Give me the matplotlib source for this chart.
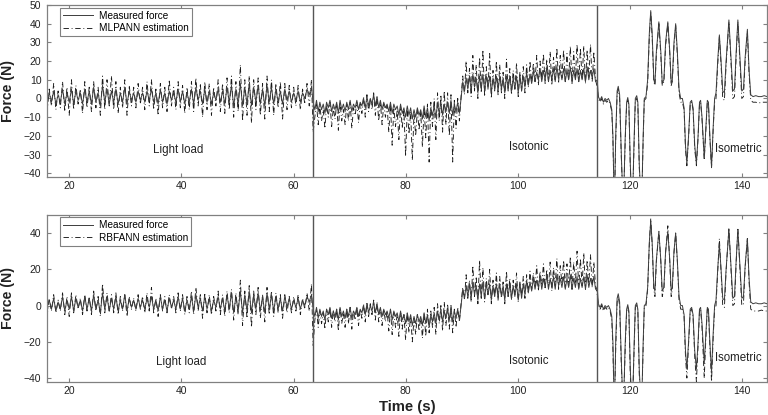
import matplotlib.pyplot as plt
import numpy as np

plt.rcParams['font.family'] = ['Liberation Sans', 'DejaVu Sans']

##################################
# data
##################################
# segment limits, s
light_start, light_end = 16.0, 63.2
isoton_start, isoton_end = 63.5, 114.2
phase_lines = [63.5, 114.2]

# --- light load: alternating troughs / peaks, N
light_meas = [-1, 3, -2, 4, -3, 2, -2, 5, -3, 3,
              -2, 5, -3, 4, -1, 3, -3, 5, -2, 4,
              -3, 6, -2, 3, -4, 7, -2, 5, -3, 4,
              -2, 5, -3, 3, -2, 6, -3, 4, -1, 3,
              -2, 4, -1, 3, -2, 4, -1, 5, -2, 3,
              -3, 5, -2, 3, -3, 4, -1, 3, -2, 5,
              -2, 4, -3, 3, -2, 5, -3, 6, -1, 4,
              -3, 5, -2, 4, -3, 3, -1, 5, -2, 4,
              -3, 6, -2, 7, -4, 5, -3, 8, -4, 6,
              -3, 8, -4, 6, -2, 7, -3, 5, -4, 7,
              -2, 6, -3, 5, -2, 4, -3, 5, -1, 4,
              -2, 3, -1, 4, -2, 3, 0, 5, 2, 6]
light_mlp = [-8, 5, -4, 8, -6, 4, -5, 9, -7, 6,
             -9, 10, -6, 7, -3, 5, -8, 9, -5, 6,
             -7, 9, -5, 6, -9, 12, -6, 10, -4, 12,
             -6, 9, -8, 6, -5, 10, -9, 7, -4, 6,
             -5, 8, -3, 6, -6, 9, -4, 10, -6, 5,
             -9, 8, -5, 6, -7, 10, -4, 6, -6, 9,
             -5, 7, -8, 6, -6, 9, -7, 11, -4, 8,
             -10, 9, -6, 8, -9, 6, -4, 10, -7, 8,
             -8, 11, -6, 12, -10, 9, -7, 18, -12, 10,
             -9, 12, -13, 10, -6, 11, -9, 8, -11, 12,
             -7, 10, -9, 8, -5, 9, -11, 8, -6, 7,
             -5, 6, -4, 7, -6, 5, -3, 8, -4, 10]
light_rbf = [-6, 4, -3, 6, -4, 3, -3, 7, -5, 5,
             -6, 7, -4, 6, -2, 4, -5, 6, -3, 5,
             -5, 8, -3, 5, -6, 12, -4, 7, -3, 6,
             -4, 7, -5, 5, -3, 6, -6, 5, -2, 4,
             -3, 6, -2, 5, -4, 7, -3, 10, -4, 4,
             -6, 6, -3, 5, -4, 6, -2, 5, -4, 7,
             -3, 6, -5, 5, -4, 8, -5, 10, -3, 6,
             -7, 7, -4, 6, -5, 5, -3, 8, -5, 6,
             -6, 8, -4, 9, -8, 7, -5, 14, -11, 8,
             -7, 11, -12, 8, -5, 10, -7, 6, -9, 10,
             -5, 8, -6, 7, -4, 6, -7, 6, -4, 5,
             -4, 5, -3, 6, -5, 4, -2, 7, -3, 12]

# --- isotonic
isoton_meas = [-2, -6, -1, -7, -2, -6, -3, -8, -2, -5,
               -1, -7, -3, -6, -2, -8, -1, -6, -3, -7,
               -2, -6, -1, -7, -3, -5, -1, -6, -2, -4,
               0, -5, 1, -4, 0, -3, 2, -4, 1, -5,
               -1, -6, -2, -5, -3, -7, -2, -8, -3, -6,
               -4, -9, -3, -8, -5, -10, -4, -9, -5, -11,
               -6, -10, -5, -9, -6, -11, -4, -10, -5, -12,
               -5, -9, -4, -10, -3, -8, -2, -9, -3, -7,
               -2, -8, -1, -9, -3, -7, -2, -8, 0, 9,
               4, 11, 5, 12, 4, 13, 6, 11, 3, 12,
               5, 13, 4, 12, 6, 12, 3, 11, 5, 12,
               4, 12, 5, 11, 3, 12, 5, 12, 4, 11,
               5, 12, 3, 13, 4, 12, 6, 14, 7, 13,
               8, 15, 9, 14, 10, 16, 9, 15, 10, 17,
               9, 15, 10, 16, 9, 17, 11, 15, 10, 16,
               9, 15, 10, 17, 9, 15, 10, 16, 9, 15,
               10, 16, 9, 17, 10, 15, 11, 16, 9, 10]
isoton_mlp = [-18, -10, -3, -14, -4, -12, -6, -16, -3, -10,
              -2, -15, -5, -11, -3, -17, -2, -12, -6, -14,
              -3, -12, -2, -16, -5, -9, -2, -13, -3, -8,
              1, -10, 2, -7, 0, -6, 3, -9, 1, -12,
              -2, -14, -3, -10, -4, -18, -3, -25, -5, -15,
              -6, -22, -4, -16, -6, -31, -5, -19, -7, -33,
              -8, -20, -6, -17, -7, -26, -5, -21, -3, -34,
              -2, -15, 0, -22, 3, -12, 2, -18, 4, -14,
              3, -20, 2, -34, -1, -16, 0, -12, 1, 12,
              2, 20, 3, 16, 1, 23, 4, 18, 0, 22,
              3, 26, 1, 17, 5, 24, 0, 15, 4, 20,
              2, 18, 3, 14, 0, 21, 4, 16, 2, 15,
              5, 19, 1, 14, 4, 17, 3, 18, 6, 20,
              8, 19, 9, 23, 7, 20, 10, 24, 8, 21,
              9, 25, 7, 22, 10, 27, 8, 23, 11, 26,
              9, 24, 10, 28, 8, 25, 11, 29, 9, 27,
              10, 28, 8, 26, 11, 29, 9, 25, 10, 6]
isoton_rbf = [-22, -8, -2, -12, -3, -10, -4, -13, -2, -9,
              -1, -12, -3, -9, -2, -14, -1, -10, -4, -12,
              -2, -10, -1, -13, -3, -8, -1, -11, -2, -7,
              1, -9, 2, -6, 1, -5, 3, -8, 2, -9,
              -1, -11, -2, -9, -3, -14, -2, -16, -4, -12,
              -5, -17, -3, -13, -5, -19, -4, -15, -6, -20,
              -7, -16, -5, -14, -6, -18, -4, -17, -2, -15,
              -3, -12, -1, -16, 1, -10, 0, -14, 2, -11,
              1, -13, 0, -15, -2, -12, -1, -9, 1, 10,
              3, 17, 4, 14, 2, 22, 5, 16, 1, 25,
              4, 21, 2, 15, 6, 20, 1, 14, 5, 18,
              3, 16, 4, 13, 1, 19, 5, 15, 3, 14,
              6, 18, 2, 13, 5, 16, 4, 17, 7, 19,
              9, 18, 10, 22, 8, 19, 11, 23, 9, 20,
              10, 24, 8, 21, 11, 26, 9, 22, 12, 25,
              10, 23, 11, 27, 9, 24, 12, 30, 10, 26,
              11, 29, 9, 25, 12, 28, 10, 24, 11, 6]

# --- isometric (uneven sample times)
isom_t = [114.4, 114.7, 115.0, 115.3, 115.6, 115.9, 116.2, 116.5, 116.8, 117.0,
          117.25, 117.5, 117.75, 117.95, 118.2, 118.5, 118.85, 119.2, 119.45, 119.65,
          119.85, 120.1, 120.45, 120.8, 121.0, 121.25, 121.45, 121.7, 122.1, 122.4,
          122.6, 122.9, 123.2, 123.5, 123.75, 124.0, 124.3, 124.5, 124.75, 125.2,
          125.55, 125.8, 126.1, 126.4, 126.8, 127.15, 127.4, 127.6, 127.9, 128.2,
          128.5, 128.8, 129.1, 129.4, 129.7, 129.95, 130.2, 130.5, 130.8, 131.05,
          131.3, 131.6, 131.9, 132.2, 132.45, 132.65, 132.9, 133.3, 133.6, 133.85,
          134.05, 134.3, 134.6, 134.9, 135.15, 135.4, 135.7, 136.0, 136.3, 136.6,
          136.9, 137.2, 137.7, 138.1, 138.4, 138.7, 139.0, 139.3, 139.7, 140.0,
          140.3, 140.6, 141.0, 141.3, 141.6, 142.0, 142.5, 143.0, 143.5, 144.0,
          144.5]
isom_meas = [1, -1, 1, -2, 0, -1, 0, -2, -6, -20,
             -60, -20, 4, 6.5, 2, -30, -60, -20, -2, 0.5,
             -3, -35, -60, -20, 0, 1.5, -2, -35, -60, -20,
             0, 1, 10, 35, 47, 35, 10, 8, 25, 41,
             25, 8, 10, 30, 41, 25, 8, 10, 30, 40,
             25, 5, 0, 0, -5, -25, -35, -20, -2, -1,
             -5, -25, -35, -20, -2, -1, -10, -32, -15, -1,
             -2, -20, -37, -15, 0, 3, 20, 34, 20, 4,
             3, 20, 42, 20, 4, 5, 25, 42, 20, 4,
             5, 22, 37, 15, 2, 1, 1.5, 1, 1, 1.5,
             1]
isom_mlp = [0, -2, 0, -3, -1, -2, -1, -3, -7, -22,
            -60, -22, 2, 5, 0, -32, -60, -22, -3, -1,
            -4, -37, -60, -22, -1, 0, -3, -37, -60, -22,
            -1, 0, 8, 33, 46, 33, 9, 7, 23, 40,
            23, 7, 9, 28, 40, 24, 7, 9, 28, 39,
            23, 3, -2, -2, -6, -27, -36, -21, -3, -2,
            -6, -27, -36, -21, -3, -2, -11, -33, -16, -2,
            -3, -21, -37, -16, -2, 0, 18, 33, 18, 0,
            -1, 18, 41, 18, 0, 1, 23, 41, 18, 0,
            1, 20, 36, 13, -1, -2, -2, -2.5, -2, -2,
            -2]
isom_rbf = [0, -2, 0, -3, -1, -2, -1, -3, -8, -24,
            -60, -24, 2, 5, 0, -33, -60, -23, -3, -1,
            -4, -38, -60, -23, -1, 0, -3, -38, -60, -23,
            -1, 0, 9, 34, 48, 34, 9, 5, 24, 41,
            24, 5, 9, 29, 44, 24, 5, 9, 29, 40,
            24, 3, -2, -2, -6, -28, -40, -22, -3, -2,
            -6, -28, -42, -22, -3, -2, -12, -40, -17, -2,
            -3, -22, -42, -17, -2, 0, 19, 37, 19, 0,
            -1, 19, 43, 19, 0, 1, 24, 43, 19, 0,
            1, 21, 37, 13, -2, -3, -3, -3, -2.5, -3,
            -3]

model_names = ['MLPANN estimation', 'RBFANN estimation']
phase_names = ['Light load', 'Isotonic', 'Isometric']
phase_pos_top = [(39.5, -27.7), (102, -26), (139.4, -27)]
phase_pos_bot = [(39.9, -31), (102, -30.4), (139.4, -28.7)]


def join(light, isoton, isom):
    # sample clock of each segment + values
    t = np.concatenate([np.linspace(light_start, light_end, len(light)),
                        np.linspace(isoton_start, isoton_end, len(isoton)),
                        isom_t])
    y = np.concatenate([light, isoton, isom])
    return t, y


t_meas, y_meas = join(light_meas, isoton_meas, isom_meas)
estimates = [join(light_mlp, isoton_mlp, isom_mlp),
             join(light_rbf, isoton_rbf, isom_rbf)]

##################################
# figure
##################################
fig = plt.figure(figsize=(7.68, 4.15), dpi=100)
ax_top = fig.add_axes([0.0612, 0.5735, 0.9375, 0.4145])
ax_bot = fig.add_axes([0.0612, 0.0803, 0.9375, 0.4017])

spine_col = '#808080'
for k, ax in enumerate([ax_top, ax_bot]):
    t_est, y_est = estimates[k]
    l_est, = ax.plot(t_est, y_est, color='#1a1a1a', lw=0.65,
                     dashes=(6, 3, 1, 3), label=model_names[k])
    l_meas, = ax.plot(t_meas, y_meas, color='#3c3c3c', lw=0.7,
                      label='Measured force')
    for x in phase_lines:
        ax.axvline(x, color='#555555', lw=1.0)

    pos = phase_pos_top if k == 0 else phase_pos_bot
    for name, (px, py) in zip(phase_names, pos):
        ax.text(px, py, name, ha='center', va='center', fontsize=8.3,
                color='#222222')

    ax.set_xlim(16, 144.5)
    ax.set_ylim(-42, 50)
    ax.set_xticks(range(20, 141, 20))
    if k == 0:
        ax.set_yticks(range(-40, 51, 10))
    else:
        ax.set_yticks(range(-40, 41, 20))
    ax.tick_params(direction='in', top=True, right=True, length=3,
                   width=0.8, color=spine_col, labelsize=7.5,
                   labelcolor='#222222', pad=3)
    ax.tick_params(axis='y', pad=4)
    for s in ax.spines.values():
        s.set_color(spine_col)
        s.set_linewidth(0.9)

    leg = ax.legend(handles=[l_meas, l_est], loc='upper left',
                    bbox_to_anchor=(0.018, 0.985), borderaxespad=0,
                    fontsize=7.2, handlelength=3.0, labelspacing=0.25,
                    borderpad=0.3, handletextpad=0.6, fancybox=False,
                    framealpha=1, edgecolor=spine_col)
    leg.get_frame().set_linewidth(0.8)

    fig.text(8.5 / 768, 0.5 * (ax.get_position().y0 + ax.get_position().y1),
             'Force (N)', rotation=90, ha='center', va='center',
             fontsize=10.2, fontweight='bold', color='#222222')

fig.text(407.5 / 768, 1 - 406.7 / 415, 'Time (s)', ha='center',
         va='center', fontsize=10.7, fontweight='bold', color='#222222')

fig.savefig('out.png', dpi=100)
